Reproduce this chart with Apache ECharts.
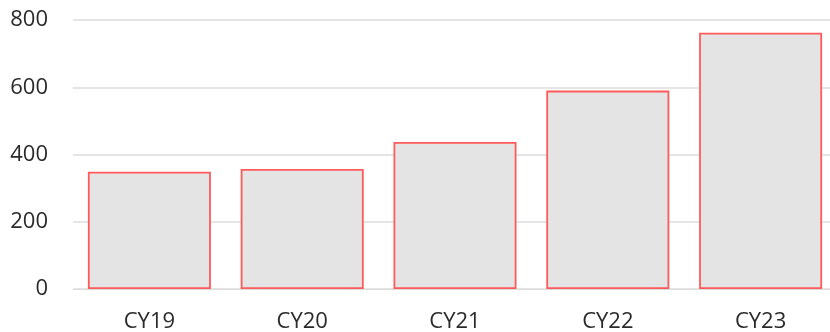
<!DOCTYPE html>
<html><head><meta charset="utf-8">
<script src="https://cdn.jsdelivr.net/npm/echarts@6/dist/echarts.min.js"></script>
<style>html,body{margin:0;padding:0;background:#fff}#c{width:830px;height:332px}</style>
</head><body><div id="c"></div>
<script>
const categories = ['CY19','CY20','CY21','CY22','CY23'];
const values = [349, 357, 437, 590, 762];
const yTicks = [0, 200, 400, 600, 800];

const chart = echarts.init(document.getElementById('c'), null, {renderer:'canvas'});
chart.setOption({
  animation: false,
  grid: {left: 73, width: 764, top: 20, bottom: 43, containLabel: false, outerBoundsMode: 'none'},
  xAxis: {
    type: 'category', data: categories,
    axisLine: {show: true, lineStyle: {color: '#dcdcdc', width: 1}},
    axisTick: {show: false},
    axisLabel: {color: '#2a2a2a', fontFamily: 'Open Sans', fontSize: 22, margin: 22}
  },
  yAxis: {
    type: 'value', min: yTicks[0], max: yTicks[yTicks.length-1], interval: 200,
    axisLine: {show: false}, axisTick: {show: false},
    splitLine: {lineStyle: {color: '#dcdcdc', width: 1.5}},
    axisLabel: {color: '#2a2a2a', fontFamily: 'Open Sans', fontSize: 22, margin: 25}
  },
  series: [{
    type: 'bar', data: values, barCategoryGap: '19.5%',
    itemStyle: {color: '#e4e4e4', borderColor: '#ff5a5a', borderWidth: 1.8}
  }]
});
</script></body></html>
